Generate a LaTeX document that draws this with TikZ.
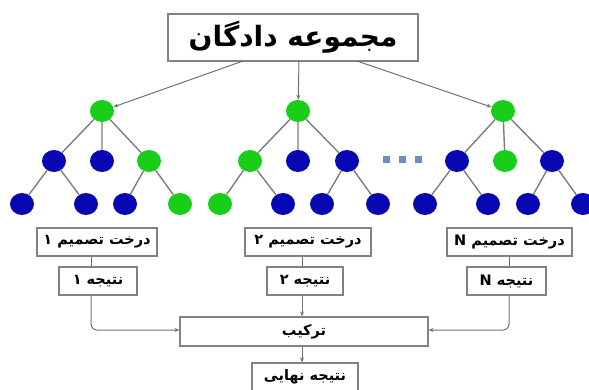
\documentclass[tikz,border=0pt]{standalone}
\usepackage{fontspec}
\usetikzlibrary{arrows.meta,shapes.geometric}
\TeXXeTstate=1
\newfontfamily\arabicfont[Script=Arabic]{DejaVu Sans}
\definecolor{tgreen}{RGB}{24,206,24}
\definecolor{tblue}{RGB}{8,8,178}
\definecolor{edgegray}{RGB}{125,125,125}
\definecolor{boxgray}{RGB}{130,130,130}
\definecolor{dotblue}{RGB}{110,140,192}
\tikzset{
  gn/.style={ellipse,fill=tgreen,minimum width=24pt,minimum height=22pt,inner sep=0pt},
  bn/.style={ellipse,fill=tblue,minimum width=24pt,minimum height=22pt,inner sep=0pt},
  tedge/.style={draw=edgegray,line width=1.4pt},
  boxn/.style={draw=boxgray,line width=1.2pt,fill=white,inner sep=0pt,font=\arabicfont\bfseries\fontsize{14.5}{16}\selectfont},
  arr/.style={draw=edgegray!90!black,line width=1pt,-{Stealth[length=5pt,width=4pt]}},
  conn/.style={draw=edgegray!90!black,line width=1pt},
  dotsq/.style={fill=dotblue,minimum size=7pt,inner sep=0pt}
}
\begin{document}
\begin{tikzpicture}[x=1pt,y=-1pt]
\useasboundingbox (0,0) rectangle (589,389);
% top box
\node[boxn,minimum width=250pt,minimum height=47pt,font=\arabicfont\bfseries\fontsize{28}{30}\selectfont] (top) at (293,37.5) {\beginR مجموعه دادگان\endR};
\coordinate (tL) at (243,61);
\coordinate (tM) at (299,61);
\coordinate (tR) at (357,61);
% left tree
\node[gn] (a0) at (102,111) {};
\node[bn] (a1) at (54,161) {};
\node[bn] (a2) at (102,161) {};
\node[gn] (a3) at (149,161) {};
\node[bn] (a4) at (22,204) {};
\node[bn] (a5) at (86,204) {};
\node[bn] (a6) at (125,204) {};
\node[gn] (a7) at (180,204) {};
% middle tree
\node[gn] (b0) at (298,111) {};
\node[gn] (b1) at (250,161) {};
\node[bn] (b2) at (298,161) {};
\node[bn] (b3) at (347,161) {};
\node[gn] (b4) at (220,204) {};
\node[bn] (b5) at (283,204) {};
\node[bn] (b6) at (322,204) {};
\node[bn] (b7) at (378,204) {};
% right tree
\node[gn] (c0) at (503,111) {};
\node[bn] (c1) at (457,161) {};
\node[gn] (c2) at (505,161) {};
\node[bn] (c3) at (552,161) {};
\node[bn] (c4) at (425,204) {};
\node[bn] (c5) at (488,204) {};
\node[bn] (c6) at (528,204) {};
\node[bn] (c7) at (583,204) {};
% tree edges
\draw[tedge] (a0)--(a1) (a0)--(a2) (a0)--(a3) (a1)--(a4) (a1)--(a5) (a3)--(a6) (a3)--(a7);
\draw[tedge] (b0)--(b1) (b0)--(b2) (b0)--(b3) (b1)--(b4) (b1)--(b5) (b3)--(b6) (b3)--(b7);
\draw[tedge] (c0)--(c1) (c0)--(c2) (c0)--(c3) (c1)--(c4) (c1)--(c5) (c3)--(c6) (c3)--(c7);
% dots
\node[dotsq] (d1) at (386,159) {};
\node[dotsq] (d2) at (402,159) {};
\node[dotsq] (d3) at (418,159) {};
% arrows from top box
\draw[arr] (tL) -- (a0);
\draw[arr] (tM) -- (b0);
\draw[arr] (tR) -- (c0);
% lower boxes
\node[boxn,minimum width=120pt,minimum height=28pt] (t1) at (97,242) {\beginR درخت تصمیم ۱\endR};
\node[boxn,minimum width=126pt,minimum height=28pt] (t2) at (308,242) {\beginR درخت تصمیم ۲\endR};
\node[boxn,minimum width=125pt,minimum height=28pt] (tN) at (509.5,242) {\beginR درخت تصمیم N\endR};
\node[boxn,minimum width=78pt,minimum height=28pt] (r1) at (98,281) {\beginR نتیجه ۱\endR};
\node[boxn,minimum width=76pt,minimum height=28pt] (r2) at (305,281) {\beginR نتیجه ۲\endR};
\node[boxn,minimum width=79pt,minimum height=28pt] (rN) at (506.5,281) {\beginR نتیجه N\endR};
\node[boxn,minimum width=248pt,minimum height=29pt] (comb) at (304,331.5) {\beginR ترکیب\endR};
\node[boxn,minimum width=106pt,minimum height=28pt] (fin) at (305,377) {\beginR نتیجه نهایی\endR};
\coordinate (v1) at (91,0);
\coordinate (v2) at (302,0);
\coordinate (vN) at (509,0);
\coordinate (hy) at (0,330);
\draw[conn] (v1 |- t1.south) -- (v1 |- r1.north);
\draw[conn] (v2 |- t2.south) -- (v2 |- r2.north);
\draw[conn] (vN |- tN.south) -- (vN |- rN.north);
\draw[arr,rounded corners=6pt] (v1 |- r1.south) -- (v1 |- hy) -- (comb.west |- hy);
\draw[arr,rounded corners=6pt] (vN |- rN.south) -- (vN |- hy) -- (comb.east |- hy);
\draw[arr] (v2 |- r2.south) -- (v2 |- comb.north);
\draw[arr] (v2 |- comb.south) -- (v2 |- fin.north);
\end{tikzpicture}
\end{document}
